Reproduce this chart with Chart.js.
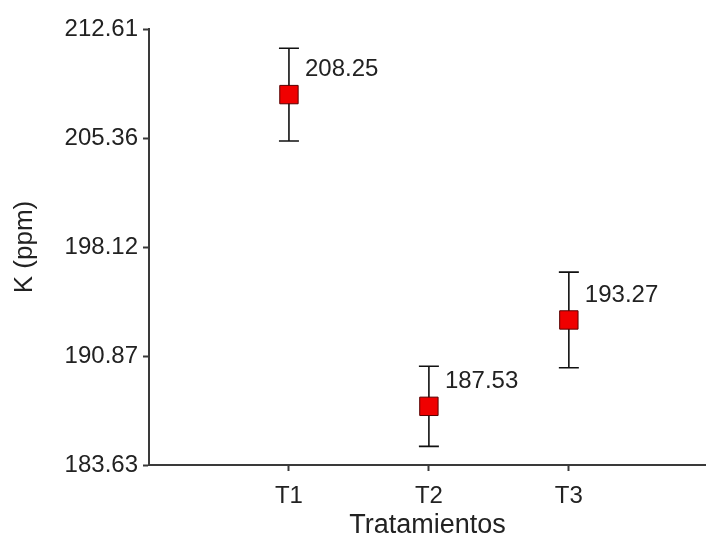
<!DOCTYPE html>
<html>
<head>
<meta charset="utf-8">
<script src="https://cdn.jsdelivr.net/npm/chart.js@4/dist/chart.umd.min.js"></script>
<style>
    html, body { margin: 0; padding: 0; background: #fff; }
    #wrap { width: 706px; height: 542px; position: relative; }
</style>
</head>
<body>
<div id="wrap"><canvas id="kChart"></canvas></div>
<script>
// K (ppm) per treatment, mean +/- error
const treatments = ['T1', 'T2', 'T3'];
const means = [208.25, 187.53, 193.27];
const errors = [3.08, 2.66, 3.18];
const yTicks = [183.63, 190.87, 198.12, 205.36, 212.61];

const fontFamily = 'Arial, "Liberation Sans", sans-serif';
const textColor = '#222';
const axisColor = '#3a3a3a';

document.addEventListener('DOMContentLoaded', function() {
    const points = means.map(function(m, i) { return { x: i + 1, y: m }; });

    // error bars behind the markers, value labels on top
    const errorBars = {
        id: 'errorBars',
        beforeDatasetsDraw: function(chart) {
            const ctx = chart.ctx;
            const xs = chart.scales.x, ys = chart.scales.y;
            ctx.save();
            ctx.strokeStyle = '#111';
            ctx.lineWidth = 1.6;
            means.forEach(function(m, i) {
                const px = xs.getPixelForValue(i + 1);
                const top = ys.getPixelForValue(m + errors[i]);
                const bot = ys.getPixelForValue(m - errors[i]);
                ctx.beginPath();
                ctx.moveTo(px, top); ctx.lineTo(px, bot);
                ctx.moveTo(px - 10, top); ctx.lineTo(px + 10, top);
                ctx.moveTo(px - 10, bot); ctx.lineTo(px + 10, bot);
                ctx.stroke();
            });
            ctx.restore();
        },
        afterDatasetsDraw: function(chart) {
            const ctx = chart.ctx;
            const xs = chart.scales.x, ys = chart.scales.y;
            ctx.save();
            ctx.fillStyle = textColor;
            ctx.font = '24px ' + fontFamily;
            ctx.textAlign = 'left';
            ctx.textBaseline = 'middle';
            means.forEach(function(m, i) {
                const px = xs.getPixelForValue(i + 1);
                const py = ys.getPixelForValue(m);
                ctx.fillText(m.toFixed(2), px + 16, py - 25);
            });
            ctx.restore();
        }
    };

    const ctxK = document.getElementById('kChart').getContext('2d');
    new Chart(ctxK, {
        type: 'scatter',
        data: {
            datasets: [{
                data: points,
                pointStyle: 'rect',
                pointRadius: 13,
                pointHoverRadius: 13,
                backgroundColor: '#f00000',
                borderColor: '#5a0000',
                borderWidth: 1
            }]
        },
        options: {
            responsive: true,
            maintainAspectRatio: false,
            animation: false,
            layout: {
                autoPadding: false,
                padding: { top: 29, right: 0, left: 0, bottom: 0 }
            },
            plugins: {
                legend: { display: false },
                tooltip: { enabled: false }
            },
            scales: {
                x: {
                    type: 'linear',
                    min: 0,
                    max: 3.98,
                    afterBuildTicks: function(scale) {
                        scale.ticks = treatments.map(function(t, i) { return { value: i + 1 }; });
                    },
                    afterFit: function(scale) { scale.height = 77; },
                    grid: {
                        drawOnChartArea: false,
                        drawTicks: true,
                        tickLength: 6,
                        tickWidth: 2,
                        tickColor: axisColor
                    },
                    border: { display: true, color: axisColor, width: 2 },
                    ticks: {
                        padding: 11,
                        color: textColor,
                        font: { family: fontFamily, size: 24 },
                        maxRotation: 0,
                        callback: function(value) {
                            return treatments[value - 1] || '';
                        }
                    },
                    title: {
                        display: true,
                        text: 'Tratamientos',
                        color: textColor,
                        font: { family: fontFamily, size: 27 },
                        padding: { top: 0, bottom: 0 }
                    }
                },
                y: {
                    min: yTicks[0],
                    max: yTicks[yTicks.length - 1],
                    afterBuildTicks: function(scale) {
                        scale.ticks = yTicks.map(function(v) { return { value: v }; });
                    },
                    afterFit: function(scale) { scale.width = 149; },
                    grid: {
                        drawOnChartArea: false,
                        drawTicks: true,
                        tickLength: 6,
                        tickWidth: 2,
                        tickColor: axisColor
                    },
                    border: { display: true, color: axisColor, width: 2 },
                    ticks: {
                        padding: 5,
                        color: textColor,
                        font: { family: fontFamily, size: 24 },
                        callback: function(value) {
                            return Number(value).toFixed(2);
                        }
                    },
                    title: {
                        display: true,
                        text: 'K (ppm)',
                        color: textColor,
                        font: { family: fontFamily, size: 26 },
                        padding: { top: 9, bottom: 0 }
                    }
                }
            }
        },
        plugins: [errorBars]
    });
});
</script>
</body>
</html>
